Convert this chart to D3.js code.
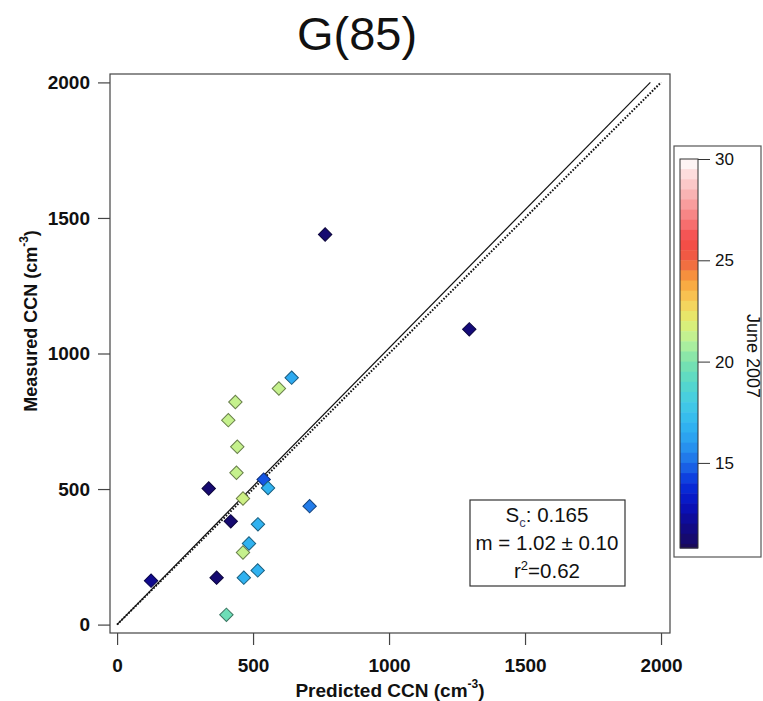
<!DOCTYPE html>
<html>
<head>
<meta charset="utf-8">
<script src="https://cdn.jsdelivr.net/npm/d3@7"></script>
<style>
  body { margin: 0; background: #fff; }
  text { font-family: "Liberation Sans", Arial, sans-serif; fill: #111; }
</style>
</head>
<body>
<svg id="chart" width="763" height="701"></svg>
<script>
// values
var predicted = [765, 1295, 642, 595, 435, 409, 442, 439, 337, 539, 555, 463, 708, 418, 518, 485, 463, 517, 466, 366, 125, 402];
var measured  = [1439, 1089, 911, 871, 821, 754, 656, 560, 502, 535, 504, 465, 437, 381, 370, 299, 266, 200, 173, 173, 162, 36];
var day       = [11.3, 11.5, 16.5, 21.3, 21.3, 21.3, 21.3, 21.3, 11.3, 14.6, 16.8, 21.5, 15.3, 11.3, 16.8, 16.8, 21.3, 16.8, 16.8, 11.3, 12.0, 19.6];

var xTicks = [0, 500, 1000, 1500, 2000];
var yTicks = [0, 500, 1000, 1500, 2000];
var cTicks = [15, 20, 25, 30];
var fitSlope = 1.02;

// colour table of the bar, bottom to top
var stopDays   = [10.8, 12, 13, 14, 15, 16, 17, 18, 19, 20, 21, 22, 23, 24, 25, 26, 27, 28, 29, 30];
var stopColors = ["#1a0a5c", "#100a8e", "#0812c0", "#0830dc", "#1e6ee8", "#2a9cf0", "#32b8f0", "#44cce4", "#58d8c8", "#7ce2ac",
                  "#b8f29a", "#e2ee70", "#f8cc58", "#f8a03c", "#ee5e42", "#f44848", "#f67a7a", "#f8a8a8", "#fcd2d2", "#ffffff"];

var svg = d3.select("#chart");

var x = d3.scaleLinear().domain([-26, 2033]).range([110, 670]);
var y = d3.scaleLinear().domain([-31, 2031]).range([633, 74]);
var c = d3.scaleLinear().domain(stopDays).range(stopColors);
var cy = d3.scaleLinear().domain([10.8, 30]).range([548, 159]);

// title
svg.append("text")
  .attr("x", 357).attr("y", 50)
  .attr("text-anchor", "middle")
  .style("font-size", "47px")
  .text("G(85)");

// frame
svg.append("rect")
  .attr("x", 110).attr("y", 74)
  .attr("width", 560).attr("height", 559)
  .attr("fill", "none").attr("stroke", "#444").attr("stroke-width", 1.2);

// x axis
var xAxis = svg.append("g")
  .attr("transform", "translate(0,633)")
  .call(d3.axisBottom(x).tickValues(xTicks).tickFormat(d3.format("d")).tickSize(12).tickSizeOuter(0).tickPadding(14));
xAxis.select(".domain").remove();
xAxis.selectAll("line").attr("stroke", "#444").attr("stroke-width", 1.2);
xAxis.selectAll("text").style("font-size", "19px").style("font-weight", "bold").attr("fill", "#111")
  .style("font-family", "'Liberation Sans', Arial, sans-serif");

// y axis
var yAxis = svg.append("g")
  .attr("transform", "translate(110,0)")
  .call(d3.axisLeft(y).tickValues(yTicks).tickFormat(d3.format("d")).tickSize(12).tickSizeOuter(0).tickPadding(8));
yAxis.select(".domain").remove();
yAxis.selectAll("line").attr("stroke", "#444").attr("stroke-width", 1.2);
yAxis.selectAll("text").style("font-size", "19px").style("font-weight", "bold").attr("fill", "#111")
  .style("font-family", "'Liberation Sans', Arial, sans-serif");

// axis titles
var xl = svg.append("text")
  .attr("x", 390).attr("y", 697)
  .attr("text-anchor", "middle")
  .style("font-size", "19px").style("font-weight", "bold");
xl.append("tspan").text("Predicted CCN (cm");
xl.append("tspan").attr("dy", -9).style("font-size", "12px").text("-3");
xl.append("tspan").attr("dy", 9).text(")");

var yl = svg.append("text")
  .attr("transform", "translate(37,321) rotate(-90)")
  .attr("text-anchor", "middle")
  .style("font-size", "18px").style("font-weight", "bold");
yl.append("tspan").text("Measured CCN (cm");
yl.append("tspan").attr("dy", -9).style("font-size", "12px").text("-3");
yl.append("tspan").attr("dy", 9).text(")");

// 1:1 line (dotted) and fit line (solid)
svg.append("line")
  .attr("x1", x(0)).attr("y1", y(0))
  .attr("x2", x(2000)).attr("y2", y(2000))
  .attr("stroke", "#111").attr("stroke-width", 2)
  .attr("stroke-dasharray", "1.6,1.6");

svg.append("line")
  .attr("x1", x(0)).attr("y1", y(0))
  .attr("x2", x(2000 / fitSlope)).attr("y2", y(2000))
  .attr("stroke", "#111").attr("stroke-width", 1.2);

// points
var pts = predicted.map(function(p, i){ return {p: p, m: measured[i], d: day[i]} });

svg.append("g").selectAll("path")
  .data(pts)
  .enter()
  .append("path")
  .attr("d", d3.symbol().type(d3.symbolSquare).size(90))
  .attr("transform", function(d){ return "translate(" + x(d.p) + "," + y(d.m) + ") rotate(45)" })
  .attr("fill", function(d){ return c(d.d) })
  .attr("stroke", function(d){ return d3.color(c(d.d)).darker(1.8) })
  .attr("stroke-width", 1);

// stats box
svg.append("rect")
  .attr("x", 470).attr("y", 500)
  .attr("width", 155).attr("height", 86)
  .attr("fill", "#fff").attr("stroke", "#333").attr("stroke-width", 1.2);

var s1 = svg.append("text").attr("x", 547).attr("y", 522).attr("text-anchor", "middle").style("font-size", "20.5px");
s1.append("tspan").text("S");
s1.append("tspan").attr("dy", 5).style("font-size", "13px").attr("fill", "#446").text("c");
s1.append("tspan").attr("dy", -5).text(": 0.165");

svg.append("text").attr("x", 547).attr("y", 550).attr("text-anchor", "middle").style("font-size", "20.5px")
  .text("m = 1.02 \u00b1 0.10");

var s3 = svg.append("text").attr("x", 547).attr("y", 578).attr("text-anchor", "middle").style("font-size", "20.5px");
s3.append("tspan").text("r");
s3.append("tspan").attr("dy", -8).style("font-size", "13px").text("2");
s3.append("tspan").attr("dy", 8).text("=0.62");

// colour bar
svg.append("rect")
  .attr("x", 674).attr("y", 146)
  .attr("width", 87).attr("height", 411)
  .attr("fill", "none").attr("stroke", "#555").attr("stroke-width", 1.2);

var bands = [];
for (var v = 30; v > 10.8; v -= 0.5) bands.push(v);

svg.append("g").selectAll("rect")
  .data(bands)
  .enter()
  .append("rect")
  .attr("x", 680).attr("width", 18)
  .attr("y", function(v){ return cy(v) })
  .attr("height", function(v){ return cy(Math.max(v - 0.5, 10.8)) - cy(v) + 0.5 })
  .attr("fill", function(v){ return c(v - 0.25) });

svg.append("rect")
  .attr("x", 680).attr("y", cy(30))
  .attr("width", 18).attr("height", cy(10.8) - cy(30))
  .attr("fill", "none").attr("stroke", "#333").attr("stroke-width", 1);

var cAxis = svg.append("g")
  .attr("transform", "translate(698,0)")
  .call(d3.axisRight(cy).tickValues(cTicks).tickSize(12).tickSizeOuter(0).tickPadding(5));
cAxis.select(".domain").remove();
cAxis.selectAll("line").attr("stroke", "#333");
cAxis.selectAll("text").style("font-size", "17px").attr("fill", "#222")
  .style("font-family", "'Liberation Sans', Arial, sans-serif");

svg.append("text")
  .attr("transform", "translate(747,356) rotate(90)")
  .attr("text-anchor", "middle")
  .style("font-size", "18px")
  .text("June 2007");
</script>
</body>
</html>
